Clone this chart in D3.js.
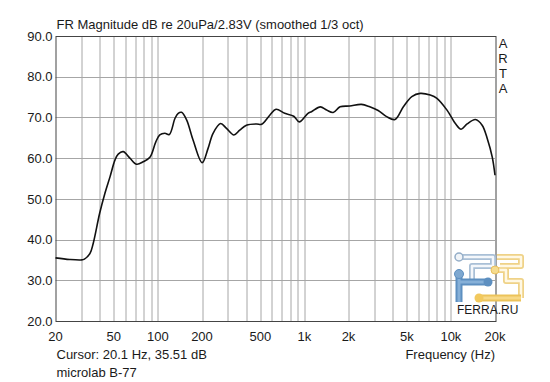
<!DOCTYPE html>
<html>
<head>
<meta charset="utf-8">
<script src="https://cdn.jsdelivr.net/npm/d3@7"></script>
<style>
  body { margin: 0; background: #fff; }
  text { font-family: "Liberation Sans", Arial, sans-serif; fill: #1a1a1a; }
</style>
</head>
<body>
<div id="chart"></div>
<script>
// frequency response
const freq = [20, 25, 30, 31.5, 34.4, 36.2, 40, 43.5, 47.1, 50.9, 53.6, 58, 64.4, 71.6, 79.4, 88.2, 96.8, 103, 111.6, 119.6,
    130.9, 137.6, 145, 157, 174, 200.6, 220, 238, 268, 294, 330, 362, 402, 472, 510, 582, 640, 734, 846, 922,
    1058, 1118, 1286, 1418, 1572, 1752, 2038, 2452, 2794, 3188, 3640, 4152, 4738, 5410, 6174, 7232, 8032, 9408,
    10732, 11740, 12900, 14700, 16340, 17680, 19140, 20000]
const spl = [35.5, 35.1, 35.0, 35.2, 36.6, 39.1, 46.4, 51.4, 55.4, 59.5, 61.0, 61.6, 60.0, 58.5, 59.1, 60.2, 64.0, 65.7, 66.1, 65.8,
    69.8, 71.0, 71.25, 69.4, 64.4, 58.9, 62.4, 66.1, 68.5, 67.3, 65.7, 66.9, 68.1, 68.4, 68.3, 70.6, 72.0, 71.0, 70.3, 68.9,
    71.0, 71.4, 72.6, 71.8, 71.2, 72.6, 72.8, 73.2, 72.6, 71.7, 70.2, 69.5, 72.6, 75.1, 75.9, 75.5, 74.7, 71.8,
    68.5, 67.1, 68.4, 69.5, 68.1, 64.9, 60.3, 55.8]

const yTicks = [20, 30, 40, 50, 60, 70, 80, 90]
const xTicks = [20, 50, 100, 200, 500, 1000, 2000, 5000, 10000, 20000]
const xTickLabels = ["20", "50", "100", "200", "500", "1k", "2k", "5k", "10k", "20k"]
const xGrid = [30, 40, 50, 60, 70, 80, 90, 100, 200, 300, 400, 500, 600, 700, 800, 900,
    1000, 2000, 3000, 4000, 5000, 6000, 7000, 8000, 9000, 10000]

const title  = "FR Magnitude dB re 20uPa/2.83V (smoothed 1/3 oct)"
const cursor = "Cursor: 20.1 Hz, 35.51 dB"
const device = "microlab B-77"
const xTitle = "Frequency (Hz)"

// ----------------------------------------------------------

const width  = 550;
const height = 382;
const margin = {
    top:    36,
    bottom: 61,
    left:   55.5,
    right:  55
};
const w = width - margin.left - margin.right
const h = height - margin.top - margin.bottom

const svg = d3.select("#chart")
    .append("svg")
    .attr("width",  width)
    .attr("height", height)

svg.append("rect").attr("width", width).attr("height", height).attr("fill", "#fff")

const g = svg.append("g")
    .attr("transform", `translate(${margin.left}, ${margin.top})`)

const x = d3.scaleLog().domain([20, 20000]).range([0, w])
const y = d3.scaleLinear().domain([20, 90]).range([h, 0])

// grid
g.selectAll(".vgrid")
    .data(xGrid)
    .join("line")
        .attr("x1", d => Math.round(x(d)) + 0.5)
        .attr("x2", d => Math.round(x(d)) + 0.5)
        .attr("y1", 0)
        .attr("y2", h)
        .attr("stroke", "#a6a6a6")
        .attr("stroke-width", 1)

g.selectAll(".hgrid")
    .data(yTicks.slice(1, -1))
    .join("line")
        .attr("x1", 0)
        .attr("x2", w)
        .attr("y1", d => Math.round(y(d)) + 0.5)
        .attr("y2", d => Math.round(y(d)) + 0.5)
        .attr("stroke", "#a6a6a6")
        .attr("stroke-width", 1)

// frame
g.append("rect")
    .attr("x", 0.5)
    .attr("y", 0.5)
    .attr("width", Math.round(w))
    .attr("height", Math.round(h))
    .attr("fill", "none")
    .attr("stroke", "#444")
    .attr("stroke-width", 1)

// axis labels
g.selectAll(".ylab")
    .data(yTicks)
    .join("text")
        .text(d => d.toFixed(1))
        .attr("x", -3)
        .attr("y", d => y(d))
        .attr("dy", "0.36em")
        .attr("text-anchor", "end")
        .attr("font-size", 13)

g.selectAll(".xlab")
    .data(xTicks)
    .join("text")
        .text((d, i) => xTickLabels[i])
        .attr("x", d => x(d))
        .attr("y", h + 15)
        .attr("dy", "0.36em")
        .attr("text-anchor", "middle")
        .attr("font-size", 13)

// curve
const line = d3.line()
    .x(d => x(d[0]))
    .y(d => y(d[1]))
    .curve(d3.curveCatmullRom.alpha(0.5))

g.append("path")
    .datum(freq.map((f, i) => [f, spl[i]]))
    .attr("d", line)
    .attr("fill", "none")
    .attr("stroke", "#111")
    .attr("stroke-width", 1.6)
    .attr("stroke-linejoin", "round")

// texts
svg.append("text")
    .text(title)
    .attr("x", margin.left + 1)
    .attr("y", 29)
    .attr("font-size", 13)

svg.append("text")
    .text(cursor)
    .attr("x", margin.left + 1)
    .attr("y", 359)
    .attr("font-size", 13)

svg.append("text")
    .text(device)
    .attr("x", margin.left + 1)
    .attr("y", 377)
    .attr("font-size", 13)

svg.append("text")
    .text(xTitle)
    .attr("x", margin.left + w)
    .attr("y", 359)
    .attr("text-anchor", "end")
    .attr("font-size", 13)

svg.selectAll(".arta")
    .data(["A", "R", "T", "A"])
    .join("text")
        .text(d => d)
        .attr("x", 503)
        .attr("y", (d, i) => 48 + i * 15)
        .attr("text-anchor", "middle")
        .attr("font-size", 13)

// ferra.ru logo, rough
const logo = svg.append("g").attr("transform", "translate(455, 252)")
const pipe = (d, outer, inner, wOut, wIn) => {
    logo.append("path").attr("d", d).attr("fill", "none")
        .attr("stroke", outer).attr("stroke-width", wOut).attr("stroke-linejoin", "round")
    logo.append("path").attr("d", d).attr("fill", "none")
        .attr("stroke", inner).attr("stroke-width", wIn).attr("stroke-linejoin", "round")
}
pipe("M4,5 H38 V14 H17 V27", "#a9bfd6", "#f4f7fb", 6, 2.5)
logo.append("circle").attr("cx", 4).attr("cy", 5).attr("r", 4).attr("fill", "#f0f4f8").attr("stroke", "#95aec8").attr("stroke-width", 1.5)
pipe("M42,5 H66 V14 H45 M42,18 H51 V29 H66 V46", "#efd287", "#fff8e4", 6, 2.5)
pipe("M4,22 V50 M4,30 H33", "#5d8fc0", "#86b0d8", 7, 3)
logo.append("circle").attr("cx", 4).attr("cy", 22).attr("r", 4.5).attr("fill", "#7ea8d0").attr("stroke", "#5d8fc0")
logo.append("circle").attr("cx", 33).attr("cy", 30).attr("r", 4.5).attr("fill", "#5d8fc0")
pipe("M24,46 H66", "#ecc35a", "#f7d987", 7, 3)
logo.append("circle").attr("cx", 40).attr("cy", 18).attr("r", 4).attr("fill", "#f6dc8e").attr("stroke", "#e8c060")
logo.append("circle").attr("cx", 24).attr("cy", 46).attr("r", 4.5).attr("fill", "#f2c95e")
logo.append("text")
    .text("FERRA.RU")
    .attr("x", 2)
    .attr("y", 62)
    .attr("font-size", 12)
    .attr("fill", "#333")
</script>
</body>
</html>
